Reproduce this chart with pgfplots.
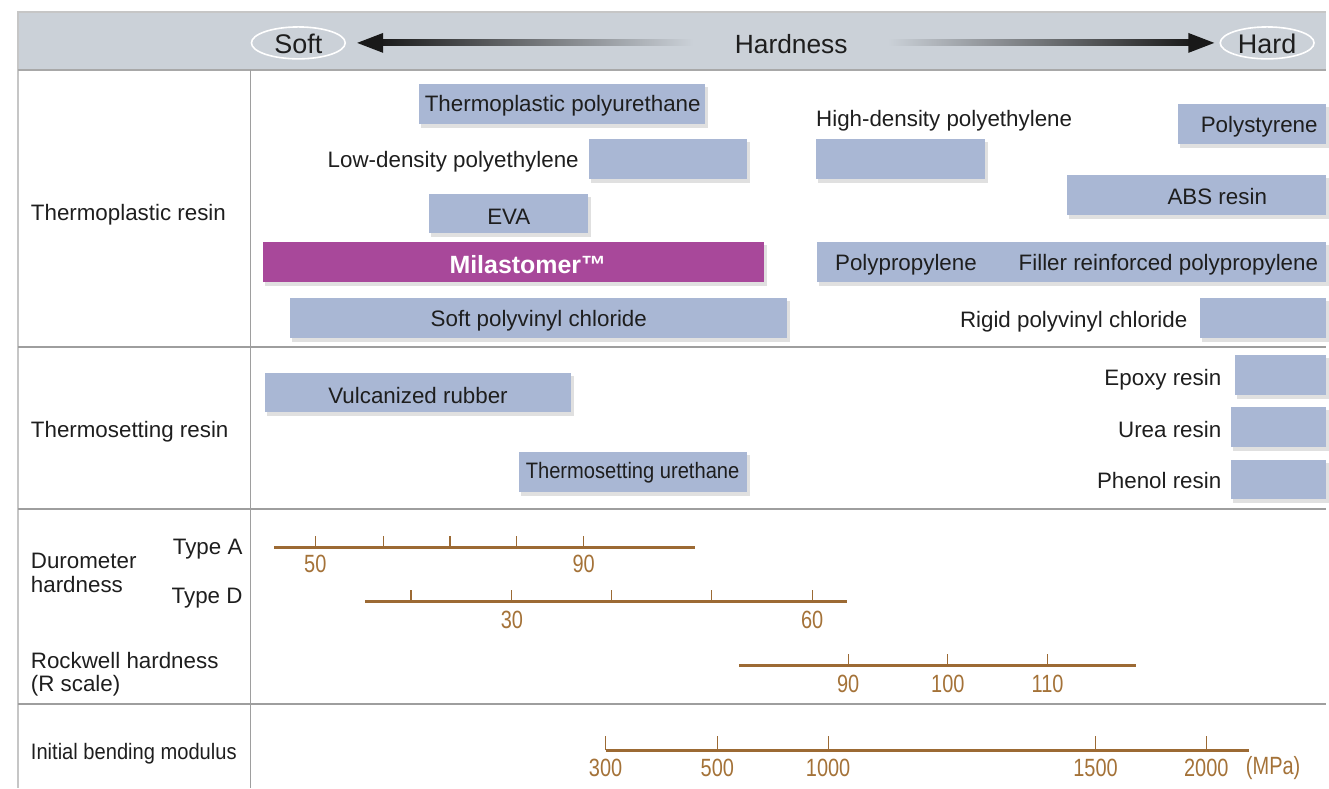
\documentclass[border=0pt]{standalone}
\usepackage{pgfplots}
\pgfplotsset{compat=1.18}
\usepackage{fontspec}
\setmainfont{Liberation Sans}
\newfontfamily\numfont[FakeStretch=0.8]{Liberation Sans}
\newfontfamily\narrowfont[FakeStretch=0.9]{Liberation Sans}
\definecolor{barblue}{HTML}{A9B7D4}
\definecolor{mila}{HTML}{A8489A}
\definecolor{hdr}{HTML}{CBD1D8}
\definecolor{sbrown}{HTML}{9C6A34}
\definecolor{nbrown}{HTML}{A47238}
\definecolor{gridc}{HTML}{9E9E9E}
\definecolor{txt}{HTML}{1E1E1E}
% bar: [colour]{x1}{y1}{x2}{y2}  (pixel units, y measured from top)
\newcommand\rbar[5][barblue]{%
  \addplot[draw=none,fill=black,fill opacity=0.12,forget plot] coordinates {(#2+2,#3+3)(#4+3,#3+3)(#4+3,#5+4)(#2+2,#5+4)} -- cycle;
  \addplot[draw=none,fill=#1,forget plot] coordinates {(#2,#3)(#4,#3)(#4,#5)(#2,#5)} -- cycle;}
\newcommand\sepline[1]{\addplot[gridc,line width=1pt,forget plot] coordinates {(18,#1)(1329,#1)};}
\begin{document}
\begin{tikzpicture}[every node/.style={inner sep=0pt,outer sep=0pt,text=txt}]
\begin{axis}[
  scale only axis, width=664.5pt, height=395pt,
  xmin=0, xmax=1329, ymin=0, ymax=790, y dir=reverse,
  hide axis, clip=false,
]
% invisible frame for bounding box
\addplot[draw=none,forget plot] coordinates {(0,0)(1329,790)};
% header band
\addplot[draw=none,fill=hdr,forget plot] coordinates {(18,12)(1329,12)(1329,70)(18,70)} -- cycle;
\addplot[gray!45,line width=0.6pt,forget plot] coordinates {(1329,12)(18,12)(18,790)};
\addplot[gridc!90,line width=1pt,forget plot] coordinates {(18,70)(1329,70)};
% arrows
\shade[left color=black!90, right color=hdr] (axis cs:380,40) rectangle (axis cs:695,46);
\fill[black!90] (axis cs:358,43) -- (axis cs:384,33) -- (axis cs:384,53) -- cycle;
\shade[left color=hdr, right color=black!90] (axis cs:890,40) rectangle (axis cs:1195,46);
\fill[black!90] (axis cs:1217,43) -- (axis cs:1191,33) -- (axis cs:1191,53) -- cycle;
\draw[white,line width=0.8pt] (axis cs:299,43) ellipse [x radius=23.5pt, y radius=8pt];
\draw[white,line width=0.8pt] (axis cs:1270,43) ellipse [x radius=23.5pt, y radius=8pt];
\node[inner sep=0pt,text=txt,font=\fontsize{13.5}{15}\selectfont] at (axis cs:299,44) {Soft};
\node[inner sep=0pt,text=txt,font=\fontsize{13.5}{15}\selectfont] at (axis cs:1270,44) {Hard};
\node[inner sep=0pt,text=txt,font=\fontsize{13.2}{15}\selectfont] at (axis cs:793,44) {Hardness};
% grid lines
\sepline{348}
\sepline{510}
\sepline{706}
\addplot[gridc,line width=0.6pt,forget plot] coordinates {(251,70)(251,790)};
% left labels
\begin{scope}[every node/.append style={inner sep=0pt,text=txt,anchor=west,font=\fontsize{11.2}{13}\selectfont}]
\node at (axis cs:31,215) {Thermoplastic resin};
\node at (axis cs:31,433) {Thermosetting resin};
\node at (axis cs:31,562) {Durometer};
\node at (axis cs:31,586) {hardness};
\node at (axis cs:31,662) {Rockwell hardness};
\node at (axis cs:31,687) {(R scale)};
\node[font=\narrowfont\fontsize{11.2}{13}\selectfont] at (axis cs:31,755) {Initial bending modulus};
\end{scope}
\begin{scope}[every node/.append style={inner sep=0pt,text=txt,anchor=east,font=\fontsize{11.2}{13}\selectfont}]
\node at (axis cs:243,550) {Type A};
\node at (axis cs:243,599) {Type D};
\end{scope}
% thermoplastic bars
\rbar{420}{84}{707}{124}
\rbar{590}{139}{749}{179}
\rbar{430}{194}{589}{234}
\rbar[mila]{264}{243}{766}{283}
\rbar{291}{299}{789}{339}
\rbar{818}{139}{987}{179}
\rbar{1181}{104}{1329}{144}
\rbar{1069}{175}{1329}{215}
\rbar{819}{243}{1329}{283}
\rbar{1203}{299}{1329}{339}
% thermosetting bars
\rbar{266}{374}{572}{413}
\rbar{520}{453}{749}{493}
\rbar{1238}{356}{1329}{396}
\rbar{1234}{408}{1329}{448}
\rbar{1234}{461}{1329}{500}
% bar labels
\begin{scope}[every node/.append style={inner sep=0pt,text=txt,font=\fontsize{11.2}{13}\selectfont}]
\node at (axis cs:564,106) {Thermoplastic polyurethane};
\node[anchor=east] at (axis cs:580,162) {Low-density polyethylene};
\node at (axis cs:510,217) {EVA};
\node at (axis cs:540,321) {Soft polyvinyl chloride};
\node[anchor=west] at (axis cs:818,121) {High-density polyethylene};
\node at (axis cs:1262,127) {Polystyrene};
\node at (axis cs:1220,197) {ABS resin};
\node at (axis cs:908,265) {Polypropylene};
\node at (axis cs:1171,265) {Filler reinforced polypropylene};
\node[anchor=east] at (axis cs:1190,322) {Rigid polyvinyl chloride};
\node at (axis cs:419,396) {Vulcanized rubber};
\node[font=\narrowfont\fontsize{11.2}{13}\selectfont] at (axis cs:634,474) {Thermosetting urethane};
\node[anchor=east] at (axis cs:1224,381) {Epoxy resin};
\node[anchor=east] at (axis cs:1224,430) {Urea resin};
\node[anchor=east] at (axis cs:1224,482) {Phenol resin};
\end{scope}
\node[inner sep=0pt,text=white,font=\fontsize{12.5}{14}\bfseries\selectfont] at (axis cs:529,265) {Milastomer™};
% scales
\addplot[sbrown,line width=1.5pt,forget plot] coordinates {(275,549)(697,549)};
\pgfplotsinvokeforeach{316,384,451,518,585}{\addplot[sbrown,line width=0.6pt,forget plot] coordinates {(#1,549)(#1,537)};}
\addplot[sbrown,line width=1.5pt,forget plot] coordinates {(366,603)(849,603)};
\pgfplotsinvokeforeach{412,513,613,713,814}{\addplot[sbrown,line width=0.6pt,forget plot] coordinates {(#1,603)(#1,591)};}
\addplot[sbrown,line width=1.5pt,forget plot] coordinates {(741,667)(1139,667)};
\pgfplotsinvokeforeach{850,950,1050}{\addplot[sbrown,line width=0.6pt,forget plot] coordinates {(#1,667)(#1,655)};}
\addplot[sbrown,line width=1.5pt,forget plot] coordinates {(607,752)(1252,752)};
\pgfplotsinvokeforeach{607,719,830,1098,1209}{\addplot[sbrown,line width=0.6pt,forget plot] coordinates {(#1,752)(#1,738)};}
\begin{scope}[every node/.append style={inner sep=0pt,text=nbrown,font=\numfont\fontsize{12.5}{14}\selectfont}]
\node at (axis cs:316,565) {50};
\node at (axis cs:585,565) {90};
\node at (axis cs:513,621) {30};
\node at (axis cs:814,621) {60};
\node at (axis cs:850,685) {90};
\node at (axis cs:950,685) {100};
\node at (axis cs:1050,685) {110};
\node at (axis cs:607,770) {300};
\node at (axis cs:719,770) {500};
\node at (axis cs:830,770) {1000};
\node at (axis cs:1098,770) {1500};
\node at (axis cs:1209,770) {2000};
\node at (axis cs:1276,770) {(MPa)};
\end{scope}
\end{axis}
\end{tikzpicture}
\end{document}
